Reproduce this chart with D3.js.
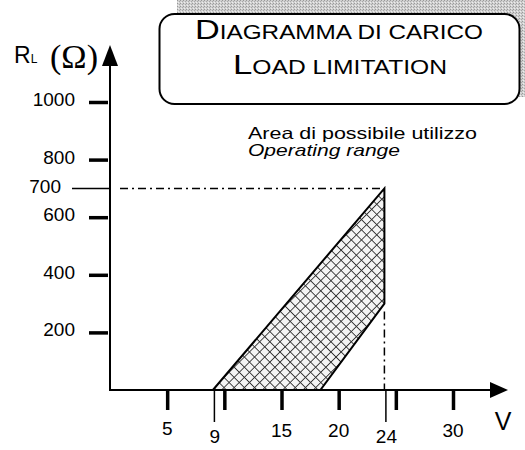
<!DOCTYPE html>
<html><head><meta charset="utf-8">
<script src="https://cdn.jsdelivr.net/npm/d3@7"></script>
<style>body{margin:0;background:#fff}svg{display:block}</style>
</head><body>
<svg id="c" width="525" height="450"></svg>
<script>
// ---- data ----
const majorTicksV = [5, 10, 15, 20, 25, 30];
const labeledTicksV = [5, 15, 20, 30];
const markedV = [9, 24];
const ticksR = [200, 400, 600, 800, 1000];
const markedR = 700;
const areaV = [9, 24, 24, 18.4];
const areaR = [0, 700, 300, 0];
const titleLine1 = [["D", 1], ["IAGRAMMA DI CARICO", 0]];
const titleLine2 = [["L", 1], ["OAD LIMITATION", 0]];
const noteLines = ["Area di possibile utilizzo", "Operating range"];

const svg = d3.select("#c");
const x = d3.scaleLinear().domain([0, 30]).range([110, 453]);
const y = d3.scaleLinear().domain([0, 1000]).range([390, 102]);
const font = "'Liberation Sans', Arial, Helvetica, sans-serif";

const defs = svg.append("defs");
// gray stipple
const st = defs.append("pattern").attr("id", "stip").attr("patternUnits", "userSpaceOnUse")
  .attr("width", 3).attr("height", 3);
st.append("rect").attr("width", 3).attr("height", 3).attr("fill", "#d0d0d0");
st.append("rect").attr("x", 0).attr("y", 0).attr("width", 1).attr("height", 1).attr("fill", "#999");
st.append("rect").attr("x", 2).attr("y", 1).attr("width", 1).attr("height", 1).attr("fill", "#a8a8a8");
st.append("rect").attr("x", 1).attr("y", 2).attr("width", 1).attr("height", 1).attr("fill", "#eee");
// crosshatch
const hs = 7.2;
const hp = defs.append("pattern").attr("id", "hatch").attr("patternUnits", "userSpaceOnUse")
  .attr("width", hs).attr("height", hs).attr("patternTransform", "rotate(45)");
hp.append("rect").attr("width", hs).attr("height", hs).attr("fill", "#f4f4f4");
hp.append("line").attr("x1", 0).attr("y1", 0).attr("x2", hs).attr("y2", 0).attr("stroke", "#333").attr("stroke-width", 1.8);
hp.append("line").attr("x1", 0).attr("y1", 0).attr("x2", 0).attr("y2", hs).attr("stroke", "#333").attr("stroke-width", 1.8);

// title box
svg.append("rect").attr("x", 177).attr("y", 0).attr("width", 348).attr("height", 97).attr("fill", "url(#stip)");
svg.append("rect").attr("x", 159.5).attr("y", 14).attr("width", 360).attr("height", 90).attr("rx", 15)
  .attr("fill", "#fff").attr("stroke", "#000").attr("stroke-width", 2);
function smallCaps(parts, xx, yy, len) {
  const t = svg.append("text").attr("x", xx).attr("y", yy).attr("font-family", font)
    .attr("textLength", len).attr("lengthAdjust", "spacingAndGlyphs");
  parts.forEach(p => t.append("tspan").attr("font-size", p[1] ? 27.5 : 19.5).text(p[0]));
}
smallCaps(titleLine1, 195, 39, 288);
smallCaps(titleLine2, 233, 74, 214);

// hatched area
const line = d3.line().x((d, i) => x(areaV[i])).y((d, i) => y(areaR[i]));
svg.append("path").attr("d", line(areaV) + "Z").attr("fill", "url(#hatch)")
  .attr("stroke", "#000").attr("stroke-width", 2).attr("stroke-linejoin", "miter");

// dash-dot guides
svg.append("line").attr("x1", 120).attr("x2", x(24) - 3).attr("y1", y(markedR)).attr("y2", y(markedR))
  .attr("stroke", "#000").attr("stroke-width", 1.5).attr("stroke-dasharray", "8,4,2,4");
svg.append("line").attr("x1", x(24)).attr("x2", x(24)).attr("y1", y(areaR[2]) + 8).attr("y2", y(0))
  .attr("stroke", "#000").attr("stroke-width", 1.5).attr("stroke-dasharray", "8,4,2,4");

// axes lines
svg.append("line").attr("x1", 110).attr("x2", 110).attr("y1", 391).attr("y2", 66).attr("stroke", "#000").attr("stroke-width", 2);
svg.append("line").attr("x1", 109).attr("x2", 492).attr("y1", 390).attr("y2", 390).attr("stroke", "#000").attr("stroke-width", 2);
svg.append("path").attr("d", "M102,66L110,45L118,66Z").attr("fill", "#000");
svg.append("path").attr("d", "M490,382L508,390L490,398Z").attr("fill", "#000");

// y ticks
const ya = svg.append("g").attr("transform", "translate(108,0)")
  .call(d3.axisLeft(y).tickValues(ticksR).tickSize(19).tickFormat(""));
ya.select(".domain").remove();
ya.selectAll(".tick line").attr("stroke-width", 3.5);
svg.append("line").attr("x1", 72).attr("x2", 110).attr("y1", y(markedR)).attr("y2", y(markedR)).attr("stroke", "#000").attr("stroke-width", 1.5);
svg.selectAll("text.yl").data(ticksR).join("text").attr("class", "yl")
  .attr("x", 75).attr("y", d => y(d) + 4).attr("text-anchor", "end")
  .attr("font-family", font).attr("font-size", 19).text(d => d);
svg.append("text").attr("x", 61).attr("y", y(markedR) + 5).attr("text-anchor", "end")
  .attr("font-family", font).attr("font-size", 19).text(markedR);

// x ticks
const xa = svg.append("g").attr("transform", "translate(0,391)")
  .call(d3.axisBottom(x).tickValues(majorTicksV).tickSize(19).tickFormat(""));
xa.select(".domain").remove();
xa.selectAll(".tick line").attr("stroke-width", 3.5);
svg.selectAll("line.xm").data(markedV).join("line").attr("class", "xm")
  .attr("x1", d => x(d) + 1.5).attr("x2", d => x(d) + 1.5).attr("y1", 390).attr("y2", 422)
  .attr("stroke", "#000").attr("stroke-width", 1.5);
svg.selectAll("text.xl").data(labeledTicksV).join("text").attr("class", "xl")
  .attr("x", d => x(d)).attr("y", d => d === 5 ? 435 : 437).attr("text-anchor", "middle")
  .attr("font-family", font).attr("font-size", 19).text(d => d);
svg.selectAll("text.xm").data(markedV).join("text").attr("class", "xm")
  .attr("x", d => x(d) + 2).attr("y", 443).attr("text-anchor", "middle")
  .attr("font-family", font).attr("font-size", 19).text(d => d);
svg.append("text").attr("x", 503).attr("y", 430).attr("text-anchor", "middle")
  .attr("font-family", font).attr("font-size", 25).text("V");

// y label
const yl = svg.append("text").attr("x", 14).attr("y", 63).attr("font-family", font).attr("font-size", 23);
yl.append("tspan").text("R");
yl.append("tspan").attr("font-size", 12).text("L");
svg.append("text").attr("x", 50).attr("y", 68).attr("font-family", "'Liberation Serif', 'Times New Roman', serif")
  .attr("font-size", 33).attr("textLength", 48).attr("lengthAdjust", "spacingAndGlyphs").text("(Ω)");

// note
svg.append("text").attr("x", 248).attr("y", 139).attr("font-family", font).attr("font-size", 16.5)
  .attr("textLength", 229).attr("lengthAdjust", "spacingAndGlyphs").text(noteLines[0]);
svg.append("text").attr("x", 248).attr("y", 156).attr("font-family", font).attr("font-size", 16.5)
  .attr("font-style", "italic").attr("textLength", 152).attr("lengthAdjust", "spacingAndGlyphs").text(noteLines[1]);
</script>
</body></html>
